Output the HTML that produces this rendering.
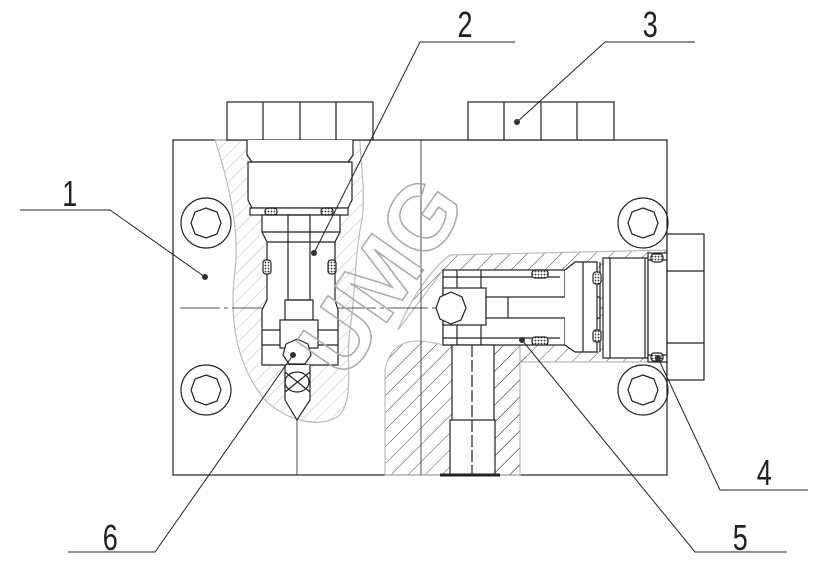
<!DOCTYPE html>
<html><head><meta charset="utf-8"><style>
html,body{margin:0;padding:0;background:#fff;width:824px;height:569px;overflow:hidden}
svg{display:block}
text{font-family:"Liberation Sans",sans-serif;font-size:30px;fill:#111}
.lb{font-size:36px;fill:#222}
</style></head><body>
<svg width="824" height="569" viewBox="0 0 824 569" xmlns="http://www.w3.org/2000/svg">
<defs>
<pattern id="lh" width="10" height="10" patternUnits="userSpaceOnUse" patternTransform="rotate(45)">
<line x1="0" y1="0" x2="0" y2="10" stroke="#bbb" stroke-width="1"/></pattern>
<pattern id="dh" width="12" height="12" patternUnits="userSpaceOnUse" patternTransform="rotate(45)">
<line x1="0" y1="0" x2="0" y2="12" stroke="#333" stroke-width="0.9"/></pattern>
<pattern id="sl" width="3" height="3" patternUnits="userSpaceOnUse"><rect width="3" height="3" fill="#fff"/><circle cx="1.5" cy="1.5" r="0.9" fill="#333"/></pattern>
</defs>
<g fill="none" stroke="#222" stroke-width="1.2">
<rect x="173" y="140" width="494" height="335"/>
<path d="M215,140 C228,180 240,230 235,270 C230,310 232,360 265,400 C285,420 320,430 340,415 C355,395 345,360 350,330 C355,300 355,250 362,220 C366,190 360,160 360,140 Z" fill="url(#lh)" stroke="#bbb"/>
<path d="M398,330 C410,300 430,270 450,255 L667,250 L667,362 L520,362 L520,345 L443,345 L443,270 Z" fill="url(#dh)" stroke="#bbb"/>
<path d="M443,270 L560,270 L560,345 L443,345 Z" fill="#fff" stroke="none"/>
<path d="M385,475 L385,370 C390,345 405,335 443,345 L520,345 L520,475 Z" fill="url(#dh)" stroke="#bbb"/>
<path d="M490,345 L498,345 L535,362 L520,362 L520,475 L490,475 Z" fill="url(#dh)" stroke="none"/>
<line x1="297" y1="140" x2="297" y2="475" stroke-width="0.8"/>
<line x1="421" y1="140" x2="421" y2="475" stroke-width="0.8"/>
<line x1="180" y1="308" x2="672" y2="308" stroke-width="0.8" stroke-dasharray="40,4,4,4"/>
<rect x="227" y="102" width="146" height="38" fill="#fff"/>
<line x1="263" y1="102" x2="263" y2="140"/><line x1="300" y1="102" x2="300" y2="140"/><line x1="336" y1="102" x2="336" y2="140"/>
<rect x="468" y="102" width="146" height="38" fill="#fff"/>
<line x1="504" y1="102" x2="504" y2="140"/><line x1="541" y1="102" x2="541" y2="140"/><line x1="577" y1="102" x2="577" y2="140"/>
<path d="M247,140 L247,155 L252,162 L348,162 L353,155 L353,140" fill="#fff"/>
<path d="M248,162 L248,200 L252,208 L348,208 L352,200 L352,162 Z" fill="#fff"/>
<rect x="250" y="208" width="98" height="7" fill="#fff"/>
<path d="M262,215 L262,232 L267,242 L267,300 L262,310 L262,365 L338,365 L338,310 L335,300 L335,242 L340,232 L340,215 Z" fill="#fff"/>
<line x1="262" y1="232" x2="340" y2="232"/><line x1="267" y1="242" x2="335" y2="242"/>
<line x1="262" y1="330" x2="338" y2="330"/><line x1="262" y1="345" x2="338" y2="345"/>
<rect x="288" y="215" width="22" height="85"/>
<rect x="285" y="300" width="28" height="20"/>
<rect x="280" y="320" width="38" height="28" fill="#fff"/>
<polygon points="297,339 308,344 311,355 305,364 289,364 283,355 286,344" fill="#fff"/>
<path d="M285,365 L285,400 L297,420 L310,400 L310,365" fill="#fff"/>
<line x1="285" y1="372" x2="310" y2="392"/><line x1="310" y1="372" x2="285" y2="392"/>
<ellipse cx="297" cy="382" rx="12" ry="10"/>
<rect x="265" y="208" width="12" height="7" rx="3" fill="url(#sl)"/>
<rect x="321" y="208" width="12" height="7" rx="3" fill="url(#sl)"/>
<rect x="263" y="260" width="8" height="14" rx="3" fill="url(#sl)"/>
<rect x="328" y="260" width="8" height="14" rx="3" fill="url(#sl)"/>
<rect x="443" y="270" width="122" height="75" fill="#fff"/>
<line x1="443" y1="277" x2="560" y2="277"/><line x1="443" y1="338" x2="560" y2="338"/>
<line x1="457" y1="270" x2="457" y2="345"/><line x1="481" y1="270" x2="481" y2="345"/>
<rect x="443" y="288" width="43" height="37" fill="#fff"/>
<polygon points="451,292 462,297 466,308 461,320 451,324 440,319 436,308 440,297" fill="#fff"/>
<rect x="486" y="297" width="114" height="21" fill="#fff"/>
<line x1="508" y1="297" x2="508" y2="318"/>
<path d="M565,270 L575,262 L597,262 L597,352 L575,352 L565,345" fill="#fff"/>
<line x1="583" y1="262" x2="583" y2="352"/>
<line x1="600" y1="262" x2="600" y2="352"/>
<rect x="603" y="258" width="45" height="100" fill="#fff"/>
<line x1="610" y1="258" x2="610" y2="358"/><line x1="645" y1="258" x2="645" y2="358"/>
<rect x="648" y="253" width="19" height="109" fill="#fff"/>
<line x1="648" y1="260" x2="667" y2="260"/><line x1="648" y1="355" x2="667" y2="355"/>
<rect x="667" y="234" width="37" height="146" fill="#fff"/>
<line x1="667" y1="271" x2="704" y2="271"/><line x1="667" y1="343" x2="704" y2="343"/>
<rect x="532" y="270" width="16" height="8" rx="3" fill="url(#sl)"/>
<rect x="532" y="337" width="16" height="8" rx="3" fill="url(#sl)"/>
<rect x="593" y="272" width="8" height="12" rx="3" fill="url(#sl)"/>
<rect x="593" y="330" width="8" height="12" rx="3" fill="url(#sl)"/>
<rect x="651" y="254" width="12" height="8" rx="3" fill="url(#sl)"/>
<rect x="651" y="353" width="12" height="8" rx="3" fill="url(#sl)"/>
<rect x="452" y="345" width="42" height="130" fill="#fff"/>
<rect x="450" y="420" width="45" height="55" fill="#fff"/>
<line x1="472" y1="345" x2="472" y2="475" stroke-dasharray="12,3"/>
<line x1="440" y1="475" x2="500" y2="475" stroke-width="3"/>
<g>
<circle cx="206" cy="223" r="25"/><polygon points="206,208 217,212 221,223 217,234 206,238 195,234 191,223 195,212"/>
<circle cx="206" cy="390" r="25"/><polygon points="206,375 217,379 221,390 217,401 206,405 195,401 191,390 195,379"/>
<circle cx="643" cy="223" r="25"/><polygon points="643,208 654,212 658,223 654,234 643,238 632,234 628,223 632,212"/>
<circle cx="643" cy="390" r="25"/><polygon points="643,375 654,379 658,390 654,401 643,405 632,401 628,390 632,379"/>
</g>
<text x="0" y="0" transform="translate(345,382) rotate(-55)" style="font-size:92px;font-weight:bold;fill:none;stroke:#aaa;stroke-width:1.5">UMG</text>
<g stroke-width="1">
<polyline points="20,210 110,210 205,277"/>
<polyline points="515,42 420,42 314,253"/>
<polyline points="695,42 605,42 517,122"/>
<polyline points="808,490 720,490 658,358"/>
<polyline points="787,552 695,552 522,340"/>
<polyline points="68,552 155,552 293,355"/>
</g>
</g>
<g fill="#333">
<circle cx="205" cy="277" r="3"/><circle cx="314" cy="253" r="3"/><circle cx="517" cy="122" r="3"/>
<circle cx="658" cy="358" r="3"/><circle cx="522" cy="340" r="3"/><circle cx="293" cy="355" r="3"/>
</g>
<g transform="scale(0.75,1)">
<text class="lb" x="83" y="206">1</text>
<text class="lb" x="610" y="37">2</text>
<text class="lb" x="857" y="37">3</text>
<text class="lb" x="1009" y="485">4</text>
<text class="lb" x="977" y="550">5</text>
<text class="lb" x="137" y="550">6</text>
</g>
</svg>
</body></html>
